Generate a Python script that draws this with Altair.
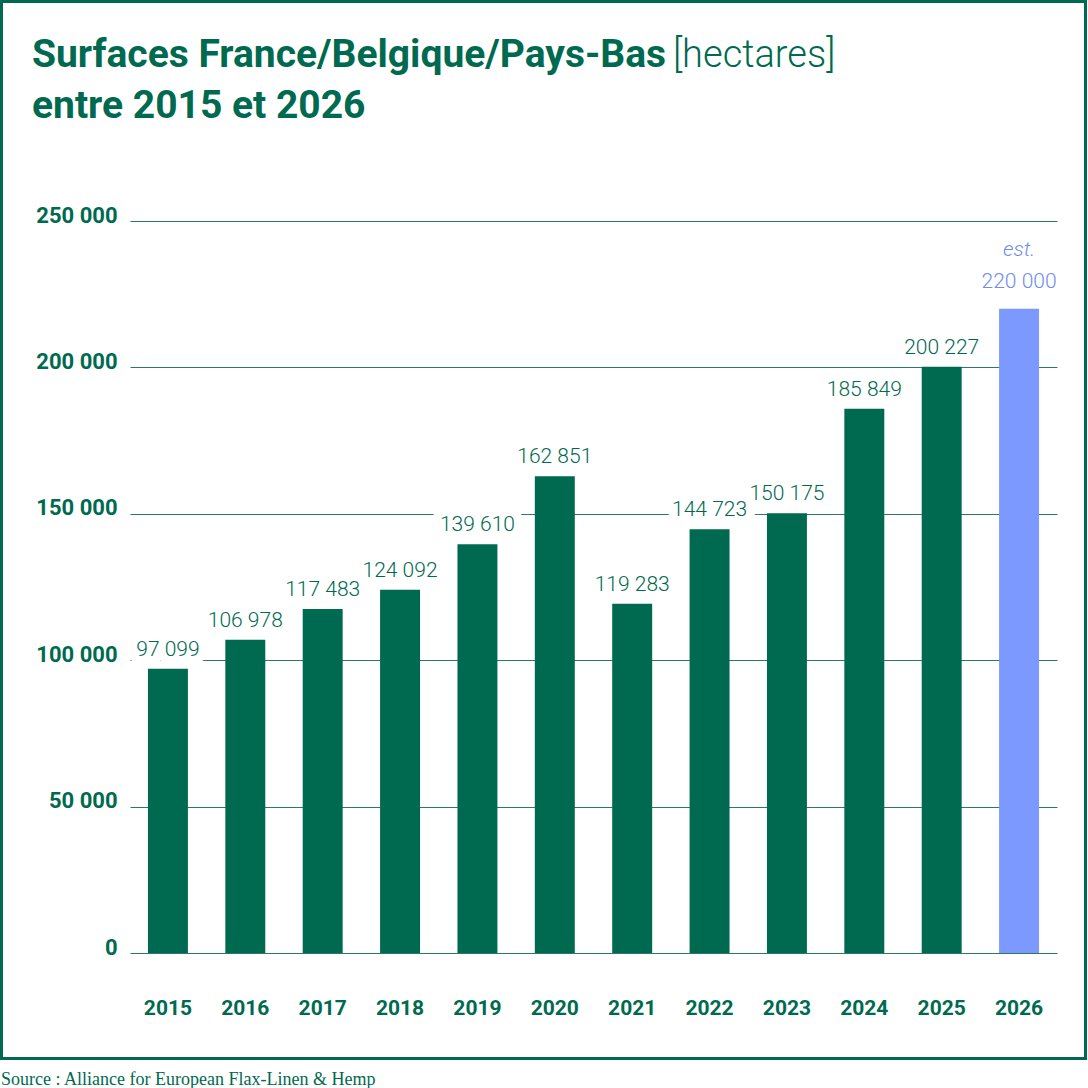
import altair as alt
import pandas as pd

years = ["2015", "2016", "2017", "2018", "2019", "2020", "2021", "2022", "2023", "2024", "2025", "2026"]
values = [97099, 106978, 117483, 124092, 139610, 162851, 119283, 144723, 150175, 185849, 200227, 220000]
estimate = [False] * 11 + [True]
labels = [f"{v:,}".replace(",", " ") for v in values]
y_ticks = [0, 50000, 100000, 150000, 200000, 250000]

GREEN = "#006A50"
BLUE = "#7B99FF"
BLUE_TXT = "#6F8CF0"
GRID = "#2D7A64"

df = pd.DataFrame({"year": years, "value": values, "label": labels, "est": estimate})
one = pd.DataFrame({"k": [0]})

x = alt.X(
    "year:N",
    sort=years,
    scale=alt.Scale(paddingInner=0.4835, paddingOuter=0.232),
    axis=alt.Axis(
        title=None, labelAngle=0, labelFont="Roboto", labelFontWeight="bold",
        labelFontSize=21, labelColor=GREEN, labelBaseline="alphabetic",
        labelPadding=61, ticks=False, domain=False, grid=False,
    ),
)
y = alt.Y(
    "value:Q",
    scale=alt.Scale(domain=[0, 250000], nice=False),
    axis=alt.Axis(
        title=None, values=y_ticks,
        labelExpr="replace(format(datum.value, ','), ',', ' ')",
        labelFont="Roboto", labelFontWeight="bold", labelFontSize=22,
        labelColor=GREEN, labelBaseline="alphabetic", labelPadding=13,
        labelOffset=1, ticks=False, domain=False, grid=True,
        gridColor=GRID, gridWidth=1.2,
    ),
)

bars = alt.Chart(df).mark_bar().encode(
    x=x, y=y,
    color=alt.condition("datum.est", alt.value(BLUE), alt.value(GREEN)),
)

base_lbl = alt.Chart(df).transform_filter("!datum.est")
halo = base_lbl.mark_text(
    dy=-13, baseline="alphabetic", font="Roboto", fontWeight=300, fontSize=21,
    color="white", stroke="white", strokeWidth=18, strokeJoin="round",
).encode(x=x, y=y, text="label:N")
lbl = base_lbl.mark_text(
    dy=-13, baseline="alphabetic", font="Roboto", fontWeight=300, fontSize=21,
    color=GREEN,
).encode(x=x, y=y, text="label:N")

base_est = alt.Chart(df).transform_filter("datum.est")
est_val = base_est.mark_text(
    dy=-21, baseline="alphabetic", font="Roboto", fontWeight=300, fontSize=21,
    color=BLUE_TXT,
).encode(x=x, y=y, text="label:N")
est_note = base_est.mark_text(
    dy=-53, baseline="alphabetic", font="Roboto", fontWeight=300, fontSize=21,
    fontStyle="italic", color=BLUE_TXT, text="est.",
).encode(x=x, y=y)

frame = alt.Chart(one).mark_rect(filled=False, stroke=GREEN, strokeWidth=3).encode(
    x=alt.value(-128.5), x2=alt.value(955.5), y=alt.value(-219.5), y2=alt.value(837.5)
)

t1 = alt.Chart(one).mark_text(
    text="Surfaces France/Belgique/Pays-Bas", align="left", baseline="alphabetic",
    font="Roboto", fontWeight="bold", fontSize=39, color=GREEN,
).encode(x=alt.value(-98), y=alt.value(-154))
t1b = alt.Chart(one).mark_text(
    text="[hectares]", align="left", baseline="alphabetic",
    font="Roboto", fontWeight=300, fontSize=38, color=GREEN,
).encode(x=alt.value(543), y=alt.value(-154))
t2 = alt.Chart(one).mark_text(
    text="entre 2015 et 2026", align="left", baseline="alphabetic",
    font="Roboto", fontWeight="bold", fontSize=39, color=GREEN,
).encode(x=alt.value(-98), y=alt.value(-103))
src = alt.Chart(one).mark_text(
    text="Source : Alliance for European Flax-Linen & Hemp", align="left",
    baseline="alphabetic", font="Liberation Serif", fontSize=18, color=GREEN,
).encode(x=alt.value(-129), y=alt.value(864))

chart = alt.layer(bars, halo, lbl, est_val, est_note, frame, t1, t1b, t2, src).properties(
    width=927, height=732,
    padding={"left": 130, "top": 221, "right": 31, "bottom": 135},
    autosize=alt.AutoSizeParams(type="none"),
    background="white",
).configure_view(stroke=None)

chart.save("out.html", embed_options={"renderer": "svg", "actions": False})
